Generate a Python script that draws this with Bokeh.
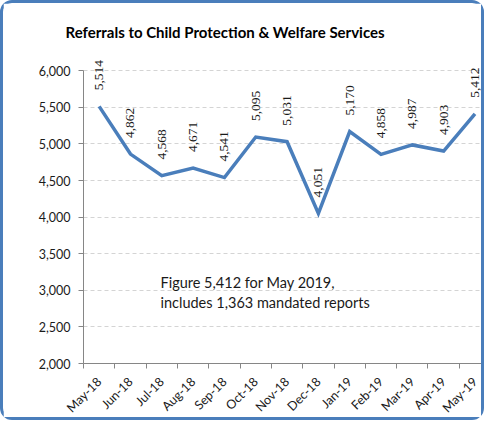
import math
from bokeh.plotting import figure
from bokeh.models import (ColumnDataSource, LabelSet, Label, Range1d, FixedTicker,
                          NumeralTickFormatter)
from bokeh.embed import file_html
from bokeh.resources import INLINE

# ---- data ----
months = ["May-18", "Jun-18", "Jul-18", "Aug-18", "Sep-18", "Oct-18", "Nov-18",
          "Dec-18", "Jan-19", "Feb-19", "Mar-19", "Apr-19", "May-19"]
referrals = [5514, 4862, 4568, 4671, 4541, 5095, 5031, 4051, 5170, 4858, 4987, 4903, 5412]
y_ticks = [2000, 2500, 3000, 3500, 4000, 4500, 5000, 5500, 6000]
title_text = "Referrals to Child Protection & Welfare Services"
note_lines = ["Figure 5,412 for May 2019,", "includes 1,363 mandated reports"]

BLUE = "#4a7ebb"
AXIS = "#868686"
TXT = "#1a1a1a"

xs = list(range(len(months)))
src = ColumnDataSource(dict(x=xs, y=referrals, lab=[f"{v:,}" for v in referrals]))

p = figure(width=484, height=420, output_backend="svg", toolbar_location=None,
           x_range=Range1d(-0.5, 12.4),
           y_range=Range1d(y_ticks[0], 6250),
           min_border_left=80, min_border_right=0, min_border_top=49, min_border_bottom=55)
p.styles = {"border": f"3px solid {BLUE}", "border-radius": "12px"}
p.outline_line_color = None

p.title.text = title_text
p.title.align = "left"
p.title.vertical_align = "top"
p.title.offset = -18
p.title.text_font = "Lato"
p.title.text_font_style = "bold"
p.title.text_font_size = "15px"
p.title.text_color = "#000000"
p.title.standoff = 20

p.line("x", "y", source=src, line_color=BLUE, line_width=3.5, line_join="miter")

# y axis
p.yaxis.ticker = FixedTicker(ticks=y_ticks)
p.yaxis.bounds = (y_ticks[0], y_ticks[-1])
p.yaxis.formatter = NumeralTickFormatter(format="0,0")
p.yaxis.axis_line_color = AXIS
p.yaxis.major_tick_line_color = AXIS
p.yaxis.major_tick_in = 0
p.yaxis.major_tick_out = 5
p.yaxis.minor_tick_line_color = None
p.yaxis.major_label_text_font = "Lato"
p.yaxis.major_label_text_font_size = "12.5px"
p.yaxis.major_label_text_color = TXT
p.yaxis.major_label_standoff = 8

# x axis: labels at centers, ticks at boundaries (minor)
p.xaxis.ticker = FixedTicker(ticks=xs, minor_ticks=[i - 0.5 for i in range(len(months) + 1)])
p.xaxis.major_label_overrides = {i: m for i, m in enumerate(months)}
p.xaxis.major_label_orientation = math.pi / 4
p.xaxis.axis_line_color = AXIS
p.xaxis.major_tick_line_color = None
p.xaxis.minor_tick_line_color = AXIS
p.xaxis.minor_tick_in = 0
p.xaxis.minor_tick_out = 5
p.xaxis.major_label_text_font = "Lato"
p.xaxis.major_label_text_font_size = "12.5px"
p.xaxis.major_label_text_color = TXT
p.xaxis.major_label_standoff = 10

p.xgrid.grid_line_color = None
p.ygrid.ticker = FixedTicker(ticks=y_ticks)
p.ygrid.grid_line_color = "#d4d4d4"
p.ygrid.grid_line_dash = "4 3"
p.ygrid.grid_line_width = 1

# data labels
p.add_layout(LabelSet(x="x", y="y", text="lab", source=src, angle=math.pi / 2,
                      text_align="left", text_baseline="middle", y_offset=16,
                      text_font="DejaVu Sans", text_font_size="13.5px", text_color=TXT))

# note
for k, line in enumerate(note_lines):
    p.add_layout(Label(x=77, y=81 - 20 * k, x_units="screen", y_units="screen", text=line,
                       text_align="left", text_baseline="middle", text_font="Lato",
                       text_font_size="14.5px", text_color=TXT))

open("out.html", "w").write(file_html(p, INLINE))
